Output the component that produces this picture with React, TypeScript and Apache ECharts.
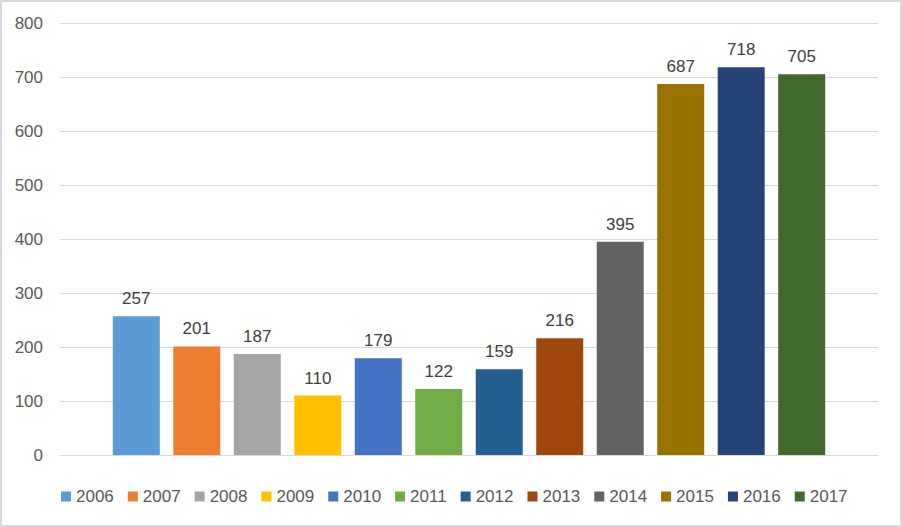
import React, { useEffect, useRef } from "react";
import * as echarts from "echarts";

const years = ["2006", "2007", "2008", "2009", "2010", "2011", "2012", "2013", "2014", "2015", "2016", "2017"];
const values = [257, 201, 187, 110, 179, 122, 159, 216, 395, 687, 718, 705];
const colors = ["#5B9BD5", "#ED7D31", "#A5A5A5", "#FFC000", "#4472C4", "#70AD47", "#255E91", "#9E480E", "#636363", "#997300", "#264478", "#43682B"];
const yTicks = { min: 0, max: 800, interval: 100 };

const FONT = "'Liberation Sans', Arial, sans-serif";

export default function App() {
  const ref = useRef<HTMLDivElement>(null);
  useEffect(() => {
    document.body.style.margin = "0";
    const chart = echarts.init(ref.current!, null, { renderer: "svg" });
    chart.setOption({
      animation: false,
      backgroundColor: "#ffffff",
      textStyle: { fontFamily: FONT },
      grid: { left: 60, right: 24, top: 23, bottom: 72, containLabel: false },
      legend: {
        data: years,
        bottom: 17,
        left: 56,
        itemWidth: 10,
        itemHeight: 10,
        itemGap: 14,
        icon: "rect",
        textStyle: { color: "#595959", fontSize: 17, fontFamily: FONT },
      },
      xAxis: {
        type: "category",
        data: [""],
        axisLine: { show: true, lineStyle: { color: "#d9d9d9", width: 1 } },
        axisTick: { show: false },
        axisLabel: { show: false },
      },
      yAxis: {
        type: "value",
        min: yTicks.min,
        max: yTicks.max,
        interval: yTicks.interval,
        axisLine: { show: false },
        axisTick: { show: false },
        axisLabel: { color: "#595959", fontSize: 17, margin: 17, fontFamily: FONT },
        splitLine: { lineStyle: { color: "#d9d9d9", width: 1 } },
      },
      graphic: [
        {
          type: "rect",
          shape: { x: 1, y: 1, width: 900, height: 525 },
          style: { fill: "none", stroke: "#d9d9d9", lineWidth: 2 },
          silent: true,
          z: 100,
        },
      ],
      series: years.map((y, i) => ({
        name: y,
        type: "bar",
        data: [values[i]],
        barWidth: 47,
        barGap: "28.7%",
        itemStyle: { color: colors[i] },
        label: {
          show: true,
          position: "top",
          distance: 9,
          color: "#404040",
          fontSize: 17,
          fontFamily: FONT,
        },
      })),
    });
    return () => chart.dispose();
  }, []);
  return <div ref={ref} style={{ width: 902, height: 527 }} />;
}
